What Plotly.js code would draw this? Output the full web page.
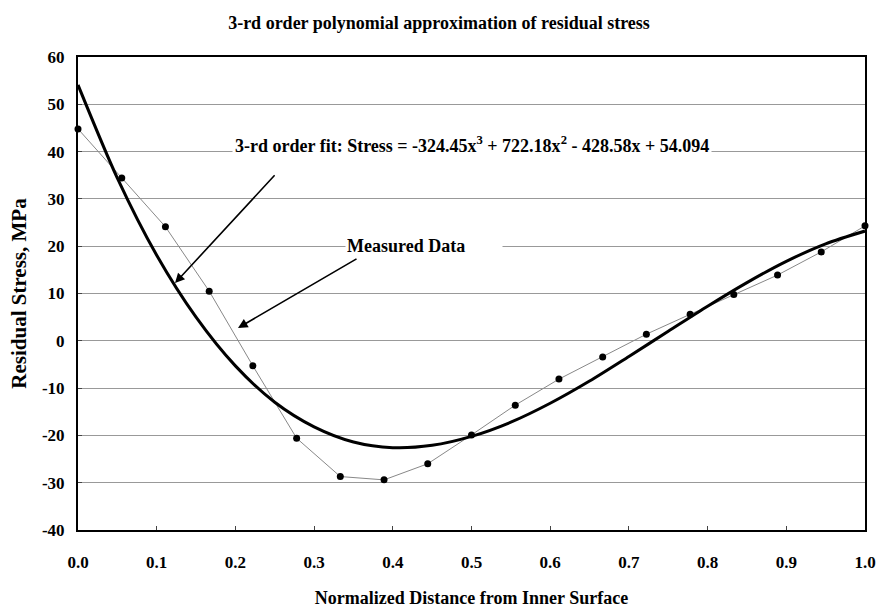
<!DOCTYPE html>
<html>
<head>
<meta charset="utf-8">
<script src="https://cdn.plot.ly/plotly-3.0.1.min.js"></script>
<style>html,body{margin:0;padding:0;background:#fff;}#chart{width:878px;height:610px;}</style>
</head>
<body>
<div id="chart"></div>
<script>
// Measured data (normalized distance, residual stress MPa)
var measuredX = [0.0, 0.0556, 0.1111, 0.1667, 0.2222, 0.2778, 0.3333, 0.3889, 0.4444, 0.5,
                 0.5556, 0.6111, 0.6667, 0.7222, 0.7778, 0.8333, 0.8889, 0.9444, 1.0];
var measuredY = [44.8, 34.4, 24.1, 10.5, -5.3, -20.6, -28.7, -29.4, -26.0, -19.9,
                 -13.6, -8.1, -3.4, 1.4, 5.6, 9.8, 13.9, 18.8, 24.3];

// 3rd-order fit curve
var fitX = [0.0, 0.05, 0.1, 0.15, 0.2, 0.25, 0.3, 0.35, 0.4, 0.45, 0.5,
            0.55, 0.6, 0.65, 0.7, 0.75, 0.8, 0.85, 0.9, 0.95, 1.0];
var fitY = [54.1, 34.4, 18.1, 5.0, -5.3, -13.0, -18.2, -21.4, -22.6, -22.1, -20.2,
            -17.2, -13.2, -8.5, -3.3, 2.0, 7.3, 12.3, 16.8, 20.5, 23.2];

var xTicks = [0, 0.1, 0.2, 0.3, 0.4, 0.5, 0.6, 0.7, 0.8, 0.9, 1.0];
var xTickLabels = ['0.0','0.1','0.2','0.3','0.4','0.5','0.6','0.7','0.8','0.9','1.0'];
var yTicks = [-40, -30, -20, -10, 0, 10, 20, 30, 40, 50, 60];
var yTickLabels = ['-40','-30','-20','-10','0','10','20','30','40','50','60'];

var titleText = '3-rd order polynomial approximation of residual stress';
var fitLabel = '3-rd order fit: Stress = -324.45x<sup>3</sup> + 722.18x<sup>2</sup> - 428.58x + 54.094';
var dataLabel = 'Measured Data';
var xTitle = 'Normalized Distance from Inner Surface';
var yTitle = 'Residual Stress, MPa';

var FONT = '"Liberation Serif", "Times New Roman", serif';

var traces = [
  {
    x: measuredX, y: measuredY, mode: 'lines+markers', type: 'scatter',
    line: {color: '#888888', width: 1},
    marker: {color: '#000000', size: 7},
    name: 'Measured', showlegend: false, cliponaxis: false
  },
  {
    x: fitX, y: fitY, mode: 'lines', type: 'scatter',
    line: {color: '#000000', width: 3, shape: 'spline', smoothing: 0.8},
    name: 'Fit', showlegend: false
  }
];

var layout = {
  width: 878, height: 610,
  margin: {l: 78, r: 13, t: 57, b: 80, pad: 0},
  paper_bgcolor: '#ffffff', plot_bgcolor: '#ffffff',
  font: {family: FONT, color: '#000000'},
  showlegend: false,
  title: {
    text: titleText,
    font: {family: FONT, size: 18, color: '#000000', weight: 'bold'},
    x: 0.5, xanchor: 'center', y: 0.963, yanchor: 'middle'
  },
  xaxis: {
    range: [0, 1], tickvals: xTicks, ticktext: xTickLabels,
    showgrid: false, zeroline: false,
    showline: true, linecolor: '#000000', linewidth: 2, mirror: true,
    ticks: 'inside', ticklen: 4, tickcolor: '#444444',
    ticklabelstandoff: 16,
    tickfont: {family: FONT, size: 17, color: '#000000', weight: 'bold'},
    title: {text: xTitle, font: {family: FONT, size: 18, color: '#000000', weight: 'bold'}, standoff: 20}
  },
  yaxis: {
    range: [-40, 60], tickvals: yTicks, ticktext: yTickLabels,
    showgrid: true, gridcolor: '#999999', gridwidth: 1, zeroline: false,
    showline: true, linecolor: '#000000', linewidth: 2, mirror: true,
    ticks: 'inside', ticklen: 4, tickcolor: '#444444',
    ticklabelstandoff: 8,
    tickfont: {family: FONT, size: 17, color: '#000000', weight: 'bold'},
    title: {text: yTitle, font: {family: FONT, size: 21, color: '#000000', weight: 'bold'}, standoff: 10}
  },
  annotations: [
    {
      xref: 'x', yref: 'y', x: 0.5, y: 41.5, text: fitLabel, showarrow: false,
      font: {family: FONT, size: 18, color: '#000000', weight: 'bold'},
      bgcolor: '#ffffff', borderpad: 2, xanchor: 'center', yanchor: 'middle'
    },
    {
      xref: 'x', yref: 'y', x: 0.4395, y: 20, text: dataLabel, showarrow: false,
      font: {family: FONT, size: 18, color: '#000000', weight: 'bold'},
      bgcolor: '#ffffff', borderpad: 1, width: 154, align: 'left',
      xanchor: 'center', yanchor: 'middle'
    },
    {
      xref: 'x', yref: 'y', axref: 'x', ayref: 'y',
      x: 0.1233, y: 12.2, ax: 0.2516, ay: 35.3, text: '',
      showarrow: true, arrowhead: 2, arrowsize: 1.2, arrowwidth: 1.6, arrowcolor: '#000000'
    },
    {
      xref: 'x', yref: 'y', axref: 'x', ayref: 'y',
      x: 0.2033, y: 2.7, ax: 0.3558, ay: 17.5, text: '',
      showarrow: true, arrowhead: 2, arrowsize: 1.2, arrowwidth: 1.6, arrowcolor: '#000000'
    }
  ]
};

Plotly.newPlot('chart', traces, layout, {staticPlot: true, displayModeBar: false});
</script>
</body>
</html>
